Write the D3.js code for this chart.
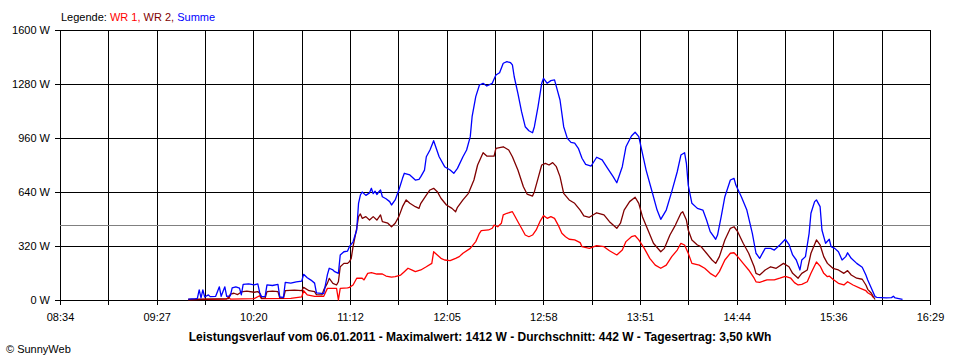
<!DOCTYPE html>
<html><head><meta charset="utf-8">
<script src="https://cdn.jsdelivr.net/npm/d3@7"></script>
<style>
body{margin:0;background:#fff}
svg{display:block}
text{font-family:"Liberation Sans",Arial,sans-serif;font-size:11px;fill:#000}
</style>
</head><body>
<svg id="chart" width="960" height="360"></svg>
<script>
const xTickLabels = ["08:34","09:27","10:20","11:12","12:05","12:58","13:51","14:44","15:36","16:29"];
const yTicks = [0,320,640,960,1280,1600];
const averageW = 442;
const legendItems = [["WR 1, ","#ff0000"],["WR 2, ","#800000"],["Summe","#0000ff"]];
const titleText = "Leistungsverlauf vom 06.01.2011 - Maximalwert: 1412 W - Durchschnitt: 442 W - Tagesertrag: 3,50 kWh";

const wr1 = [
["09:44",2],["10:05",5],["10:06",20],["10:07",5],["10:20",8],["10:23",25],["10:24",8],["10:40",10],
["10:46",18],["10:47",55],["10:49",30],["10:53",22],["10:58",22],["11:00",69],["11:05",69],["11:06",0],
["11:07",69],["11:11",72],["11:12",75],["11:14",89],["11:16",129],["11:19",129],["11:20",119],["11:22",158],
["11:24",162],["11:27",154],["11:30",154],["11:32",142],["11:35",135],["11:37",138],["11:40",148],["11:42",168],
["11:44",188],["11:46",178],["11:48",168],["11:51",178],["11:54",197],["11:57",217],["11:58",286],["12:00",267],
["12:02",247],["12:04",237],["12:07",233],["12:10",247],["12:12",257],["12:14",277],["12:18",306],["12:21",346],
["12:23",395],["12:24",411],["12:28",415],["12:30",425],["12:31",444],["12:33",434],["12:35",455],["12:36",504],
["12:38",514],["12:41",523],["12:42",504],["12:44",464],["12:46",425],["12:48",385],["12:50",375],["12:52",385],
["12:54",415],["12:56",464],["12:58",500],["13:00",484],["13:02",494],["13:04",484],["13:06",444],["13:08",395],
["13:10",375],["13:12",360],["13:15",356],["13:18",340],["13:19",316],["13:23",306],["13:27",322],["13:31",316],
["13:34",292],["13:38",267],["13:41",296],["13:43",346],["13:46",375],["13:48",381],["13:50",356],["13:53",306],
["13:56",247],["13:59",207],["14:02",188],["14:05",207],["14:08",257],["14:11",296],["14:13",336],["14:15",326],
["14:17",277],["14:19",217],["14:23",207],["14:26",188],["14:29",158],["14:32",138],["14:34",168],["14:37",237],
["14:40",277],["14:42",280],["14:44",257],["14:47",217],["14:50",178],["14:53",129],["14:54",108],["14:56",105],
["15:00",119],["15:04",119],["15:07",129],["15:10",140],["15:13",129],["15:15",103],["15:17",89],["15:19",93],
["15:22",108],["15:24",158],["15:27",225],["15:29",201],["15:31",158],["15:33",138],["15:34",142],["15:36",123],
["15:39",99],["15:42",89],["15:44",108],["15:47",89],["15:51",69],["15:54",55],["15:55",43],["15:57",30],["15:58",16]
];

const wr2 = [
["09:44",3],["10:06",8],["10:07",35],["10:09",40],["10:11",32],["10:13",48],["10:16",52],["10:20",46],
["10:22",50],["10:23",40],["10:24",10],["10:26",12],["10:27",50],["10:30",53],["10:33",50],["10:34",12],
["10:36",12],["10:37",55],["10:42",58],["10:46",55],["10:47",75],["10:50",55],["10:53",50],["10:54",32],
["10:57",30],["10:58",60],["11:00",100],["11:01",128],["11:03",99],["11:05",89],["11:06",108],["11:07",197],
["11:09",217],["11:11",217],["11:12",227],["11:13",247],["11:14",316],["11:16",425],["11:17",494],["11:18",510],
["11:19",484],["11:21",494],["11:23",474],["11:25",494],["11:27",474],["11:29",504],["11:30",464],["11:33",455],
["11:35",434],["11:37",455],["11:39",494],["11:41",553],["11:43",593],["11:45",573],["11:48",553],["11:50",543],
["11:51",573],["11:54",622],["11:56",652],["11:58",662],["12:00",642],["12:02",603],["12:05",563],["12:08",543],
["12:10",523],["12:11",549],["12:14",593],["12:17",632],["12:20",711],["12:22",800],["12:25",873],["12:27",853],
["12:31",853],["12:32",899],["12:36",908],["12:39",889],["12:41",849],["12:44",770],["12:47",671],["12:49",628],
["12:52",616],["12:53",642],["12:55",721],["12:57",800],["12:59",810],["13:01",800],["13:03",814],["13:05",790],
["13:07",731],["13:09",632],["13:12",593],["13:15",573],["13:18",533],["13:20",498],["13:23",490],["13:27",517],
["13:31",504],["13:34",464],["13:38",425],["13:40",455],["13:42",533],["13:45",583],["13:48",609],["13:50",573],
["13:52",494],["13:55",415],["13:58",336],["14:02",286],["14:04",306],["14:07",385],["14:10",444],["14:13",514],
["14:14",523],["14:16",474],["14:17",415],["14:19",356],["14:22",326],["14:24",316],["14:27",277],["14:30",237],
["14:32",217],["14:34",257],["14:37",356],["14:40",425],["14:42",434],["14:44",405],["14:47",336],["14:50",277],
["14:53",197],["14:54",158],["14:56",148],["14:59",178],["15:02",197],["15:05",188],["15:09",217],["15:12",197],
["15:14",158],["15:17",129],["15:19",158],["15:22",178],["15:24",277],["15:27",356],["15:29",326],["15:31",257],
["15:33",217],["15:34",207],["15:36",188],["15:39",178],["15:42",158],["15:44",174],["15:46",148],["15:49",129],
["15:52",123],["15:54",89],["15:55",63],["15:57",40],["15:58",20],["15:59",3]
];

const summe = [
["09:44",5],["09:48",8],["09:49",10],["09:50",60],["09:51",12],["09:52",60],["09:53",18],["09:55",30],
["09:56",20],["09:59",22],["10:01",78],["10:02",22],["10:04",78],["10:05",22],["10:07",25],["10:08",72],
["10:10",78],["10:12",70],["10:13",30],["10:14",92],["10:17",96],["10:20",90],["10:22",95],["10:23",45],
["10:24",20],["10:26",22],["10:27",90],["10:30",86],["10:33",92],["10:34",18],["10:36",15],["10:37",105],
["10:40",100],["10:43",108],["10:46",112],["10:47",152],["10:49",132],["10:51",118],["10:53",100],["10:54",42],
["10:58",38],["11:00",150],["11:01",188],["11:03",178],["11:04",168],["11:06",158],["11:07",267],["11:09",286],
["11:11",290],["11:12",316],["11:14",345],["11:16",415],["11:17",573],["11:18",622],["11:19",640],["11:21",620],
["11:23",635],["11:24",662],["11:25",630],["11:26",645],["11:27",625],["11:28",640],["11:29",652],["11:30",612],
["11:32",600],["11:34",583],["11:35",563],["11:37",593],["11:39",652],["11:41",721],["11:42",751],["11:45",741],
["11:48",711],["11:50",715],["11:51",731],["11:53",770],["11:54",849],["11:56",889],["11:58",944],["12:01",849],
["12:04",790],["12:07",770],["12:09",751],["12:11",780],["12:14",849],["12:16",889],["12:18",968],["12:19",1086],
["12:21",1205],["12:23",1274],["12:25",1284],["12:27",1268],["12:30",1284],["12:32",1333],["12:34",1347],["12:36",1403],
["12:38",1412],["12:40",1406],["12:41",1393],["12:42",1323],["12:44",1225],["12:46",1116],["12:48",1027],["12:50",1003],
["12:52",991],["12:53",1027],["12:55",1146],["12:57",1284],["12:58",1314],["13:00",1284],["13:02",1300],["13:04",1304],
["13:05",1264],["13:07",1185],["13:09",1027],["13:11",958],["13:13",934],["13:15",929],["13:17",899],["13:19",840],
["13:21",804],["13:24",794],["13:27",846],["13:30",830],["13:33",780],["13:36",731],["13:38",695],["13:41",790],
["13:43",908],["13:46",972],["13:48",994],["13:50",968],["13:52",869],["13:54",770],["13:57",652],["14:00",533],
["14:02",478],["14:05",533],["14:08",642],["14:11",760],["14:13",859],["14:15",873],["14:16",810],["14:17",681],
["14:19",573],["14:22",543],["14:25",533],["14:27",474],["14:29",405],["14:32",360],["14:33",385],["14:35",494],
["14:37",612],["14:40",711],["14:42",721],["14:43",681],["14:46",612],["14:49",533],["14:52",395],["14:54",277],
["14:56",247],["14:59",306],["15:02",306],["15:04",296],["15:07",326],["15:10",360],["15:12",330],["15:14",267],
["15:16",237],["15:18",178],["15:19",237],["15:21",257],["15:23",395],["15:24",514],["15:26",583],["15:27",593],
["15:29",553],["15:30",415],["15:32",336],["15:34",360],["15:35",316],["15:37",306],["15:39",286],["15:41",237],
["15:43",257],["15:44",280],["15:46",247],["15:49",217],["15:52",194],["15:54",148],["15:55",119],["15:57",69],
["15:59",20],["16:00",16],["16:05",12],["16:08",14],["16:09",22],["16:10",12],["16:14",4]
];

const parse = d3.timeParse("%H:%M");
const svg = d3.select("#chart");
const x = d3.scaleTime().domain([parse(xTickLabels[0]), parse(xTickLabels[xTickLabels.length-1])]).range([60, 930]);
const y = d3.scaleLinear().domain([0, 1600]).range([300, 30]);
const [t0, t1] = x.domain();
const gridTimes = d3.range(19).map(i => new Date(+t0 + (t1 - t0) * i / 18));

// vertical grid lines
const gx = svg.append("g").attr("transform", "translate(0,300)")
  .call(d3.axisBottom(x).tickValues(gridTimes).tickSizeInner(-270).tickSizeOuter(0).tickFormat(""));
gx.select(".domain").remove();
gx.selectAll("line").attr("stroke", "#000").attr("shape-rendering", "crispEdges");
// bottom ticks with labels
const bx = svg.append("g").attr("transform", "translate(0,300)")
  .call(d3.axisBottom(x).tickValues(gridTimes).tickSizeInner(5).tickSizeOuter(0).tickPadding(8)
    .tickFormat((d, i) => i % 2 === 0 ? xTickLabels[i / 2] : ""));
bx.select(".domain").remove();
bx.selectAll("line").attr("stroke", "#000").attr("shape-rendering", "crispEdges");
bx.selectAll("text").attr("font-size", 11).attr("font-family", null);

// horizontal grid
const gy = svg.append("g").attr("transform", "translate(60,0)")
  .call(d3.axisLeft(y).tickValues(yTicks).tickSizeInner(-870).tickSizeOuter(0).tickFormat(""));
gy.select(".domain").remove();
gy.selectAll("line").attr("stroke", "#000").attr("shape-rendering", "crispEdges");
const ly = svg.append("g").attr("transform", "translate(60,0)")
  .call(d3.axisLeft(y).tickValues(yTicks).tickSizeInner(5).tickSizeOuter(0).tickPadding(5).tickFormat(d => d + " W"));
ly.select(".domain").remove();
ly.selectAll("line").attr("stroke", "#000").attr("shape-rendering", "crispEdges");
ly.selectAll("text").attr("font-size", 11).attr("font-family", null);

// average line
svg.append("line")
  .attr("x1", x(t0)).attr("x2", x(t1))
  .attr("y1", Math.round(y(averageW)) + 0.5).attr("y2", Math.round(y(averageW)) + 0.5)
  .attr("stroke", "#808080").attr("shape-rendering", "crispEdges");

const line = d3.line().x(d => x(parse(d[0]))).y(d => y(d[1]));
[[wr1, "#ff0000"], [wr2, "#800000"], [summe, "#0000ff"]].forEach(([data, col]) => {
  svg.append("path").datum(data).attr("d", line).attr("fill", "none")
    .attr("stroke", col).attr("stroke-width", 1.3).attr("stroke-linejoin", "round");
});

// legend
const leg = svg.append("text").attr("x", 61).attr("y", 21);
leg.append("tspan").text("Legende: ");
legendItems.forEach(([t, c]) => leg.append("tspan").attr("fill", c).style("fill", c).text(t));

// title
svg.append("text").attr("x", 480).attr("y", 341).attr("text-anchor", "middle")
  .attr("font-weight", "bold").style("font-size", "12px").text(titleText);

// copyright
svg.append("text").attr("x", 6).attr("y", 353).text("\u00A9 SunnyWeb");
</script>
</body></html>
